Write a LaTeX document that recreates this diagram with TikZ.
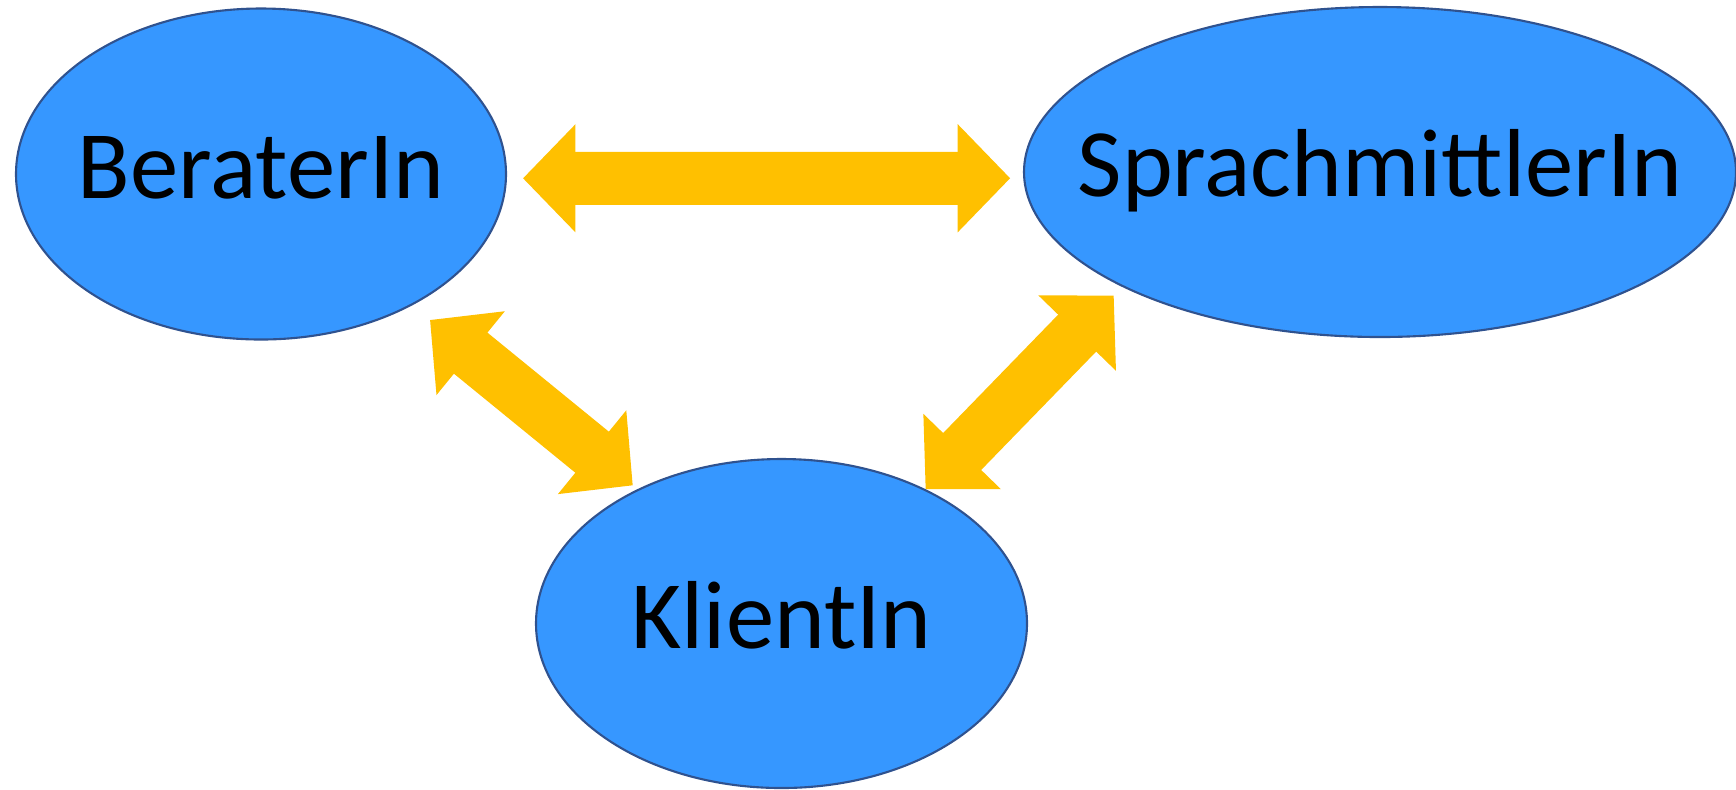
\documentclass[tikz,border=0pt]{standalone}
\usepackage{fontspec}
\setmainfont{Carlito}
\usetikzlibrary{shapes.geometric,arrows.meta}
\definecolor{rolefill}{RGB}{54,151,255}
\definecolor{roleline}{RGB}{47,82,143}
\definecolor{linkgold}{RGB}{255,192,0}
\begin{document}
\begin{tikzpicture}[x=0.1mm, y=-0.1mm,
  role/.style={ellipse, draw=roleline, line width=0.6pt, fill=rolefill,
    inner xsep=-1cm, inner ysep=0pt, text height=6.7mm, text depth=1.8mm,
    font=\fontsize{27.5pt}{33pt}\selectfont},
  link/.style={draw=linkgold, line width=5.3mm,
    {Triangle[length=5.25mm,width=10.5mm]}-{Triangle[length=5.25mm,width=10.5mm]}}]
\useasboundingbox (0,0) rectangle (1736,789);
\node[role, minimum width=49mm, minimum height=33.1mm] (ber) at (261,174) {BeraterIn};
\node[role, minimum width=71.2mm, minimum height=33mm] (spr) at (1380,172) {SprachmittlerIn};
\node[role, minimum width=49.1mm, minimum height=32.9mm] (kli) at (781.5,623.5) {KlientIn};
\draw[link, shorten <=1.6mm, shorten >=1.3mm] (ber.-1.4) -- (spr.181.2);
\draw[link, shorten <=2.3mm, shorten >=0.6mm] (ber.-41) -- (kli.137);
\draw[link, shorten >=1.2mm] (kli.43) -- (spr.204);
\end{tikzpicture}
\end{document}
